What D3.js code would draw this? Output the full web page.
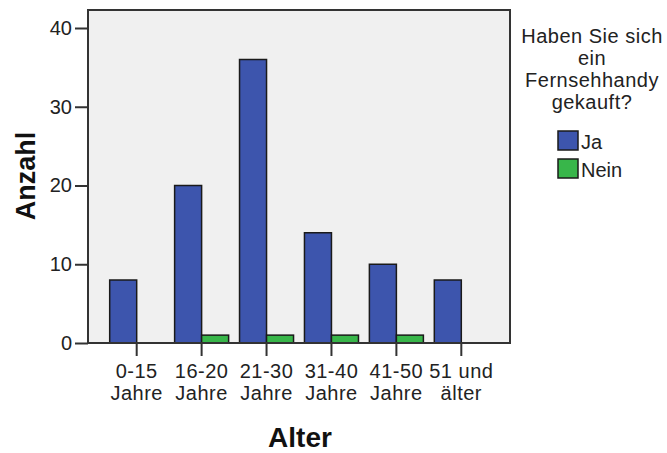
<!DOCTYPE html>
<html><head><meta charset="utf-8">
<script src="https://cdn.jsdelivr.net/npm/d3@7"></script>
<style>
body{margin:0;background:#fff;}
text{font-family:"Liberation Sans",Arial,sans-serif;}
</style></head>
<body>
<svg id="c" width="667" height="453"></svg>
<script>
const categories = [["0-15","Jahre"],["16-20","Jahre"],["21-30","Jahre"],["31-40","Jahre"],["41-50","Jahre"],["51 und","älter"]];
const seriesNames = ["Ja","Nein"];
const jaValues = [8,20,36,14,10,8];
const neinValues = [0,1,1,1,1,0];
const yTicks = [0,10,20,30,40];
const colors = ["#3d55ad","#38b64a"];
const legendTitle = ["Haben Sie sich","ein","Fernsehhandy","gekauft?"];

const svg = d3.select("#c");
const L=88, R=510, T=10, B=343;
const x = d3.scaleBand().domain(d3.range(categories.length)).range([L,R]).paddingOuter(0.25).paddingInner(0);
const y = d3.scaleLinear().domain([0,40]).range([B,28]);
const bw = 27;
const FS = 20, LS = 0.5;

svg.append("rect").attr("x",L).attr("y",T).attr("width",R-L).attr("height",B-T)
  .attr("fill","#f0f0f0").attr("stroke","#333").attr("stroke-width",2);

const data = categories.map((c,i)=>({i, vals:[jaValues[i],neinValues[i]]}));
data.forEach(d=>{
  d.vals.forEach((v,s)=>{
    if(v<=0) return;
    const cx = x(d.i)+x.bandwidth()/2;
    svg.append("rect").attr("x", s===0?cx-bw:cx).attr("y",y(v)).attr("width",bw).attr("height",y(0)-y(v))
      .attr("fill",colors[s]).attr("stroke","#1a1a1a").attr("stroke-width",1.5);
  });
});

// y axis
const ya = svg.append("g").attr("transform",`translate(${L},0)`).call(d3.axisLeft(y).tickValues(yTicks).tickSize(13).tickSizeOuter(0).tickPadding(3));
ya.select(".domain").remove();
ya.selectAll("line").attr("stroke","#333").attr("stroke-width",2);
ya.selectAll("text").attr("font-size",FS).attr("fill","#222").attr("font-family","Liberation Sans, Arial, sans-serif");

// x axis
const xa = svg.append("g").attr("transform",`translate(0,${B})`).call(d3.axisBottom(x).tickSize(13).tickSizeOuter(0).tickFormat(""));
xa.select(".domain").remove();
xa.selectAll("line").attr("stroke","#333").attr("stroke-width",2);
svg.append("line").attr("x1",L).attr("x2",R).attr("y1",B).attr("y2",B).attr("stroke","#333").attr("stroke-width",2);

categories.forEach((c,i)=>{
  const cx = x(i)+x.bandwidth()/2;
  c.forEach((t,k)=>{
    svg.append("text").attr("x",cx).attr("y",378+k*22).attr("text-anchor","middle")
      .attr("font-size",FS).attr("letter-spacing",LS).attr("fill","#222").text(t);
  });
});

svg.append("text").attr("x",300).attr("y",447).attr("text-anchor","middle").attr("font-size",28)
  .attr("font-weight","bold").attr("fill","#111").text("Alter");
svg.append("text").attr("transform","translate(35,176) rotate(-90)").attr("text-anchor","middle")
  .attr("font-size",27).attr("font-weight","bold").attr("fill","#111").text("Anzahl");

legendTitle.forEach((t,k)=>{
  svg.append("text").attr("x",592).attr("y",43+k*22).attr("text-anchor","middle").attr("font-size",FS)
    .attr("letter-spacing",LS).attr("fill","#222").text(t);
});
seriesNames.forEach((n,s)=>{
  svg.append("rect").attr("x",558).attr("y",131+s*28).attr("width",20).attr("height",19)
    .attr("fill",colors[s]).attr("stroke","#1a1a1a").attr("stroke-width",1.5);
  svg.append("text").attr("x",581).attr("y",149+s*28).attr("font-size",FS).attr("fill","#222").text(n);
});
</script>
</body></html>
